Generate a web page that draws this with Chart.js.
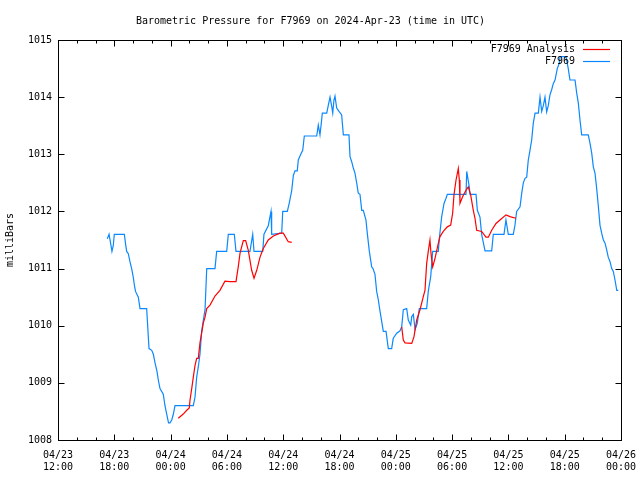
<!DOCTYPE html>
<html>
<head>
<meta charset="utf-8">
<script src="https://cdn.jsdelivr.net/npm/chart.js@4/dist/chart.umd.min.js"></script>
<style>
  html, body { margin: 0; padding: 0; background: #fff; }
  #wrap { width: 640px; height: 480px; }
</style>
</head>
<body>
<div id="wrap"><canvas id="baro"></canvas></div>
<script>
// saat cinsinden zaman: 04/23 12:00 UTC'den itibaren
const tickLabels = [
  ['04/23', '12:00'], ['04/23', '18:00'], ['04/24', '00:00'], ['04/24', '06:00'],
  ['04/24', '12:00'], ['04/24', '18:00'], ['04/25', '00:00'], ['04/25', '06:00'],
  ['04/25', '12:00'], ['04/25', '18:00'], ['04/26', '00:00']
];

// F7969 istasyon ölçümleri
const stationHours = [
  5.25, 5.44, 5.60, 5.75, 5.89, 6.00, 7.07, 7.21, 7.32, 7.49, 7.67, 7.85, 8.02, 8.15, 8.26, 8.56,
  8.74, 9.45, 9.52, 9.70, 9.99, 10.16, 10.34, 10.55, 10.69, 10.87, 11.22, 11.40, 11.65, 11.78, 11.94,
  12.12, 12.29, 12.47, 14.42, 14.60, 14.78, 14.97, 15.13, 15.31, 15.49, 15.67, 15.85, 16.73, 16.91,
  17.98, 18.15, 18.79, 18.97, 20.46, 20.75, 20.89, 21.82, 21.95, 22.41, 22.70, 22.77, 23.84, 23.95,
  24.44, 24.65, 24.91, 25.08, 25.26, 25.50, 25.61, 25.87, 26.08, 26.25, 27.57, 27.74, 27.92, 28.03,
  28.17, 28.64, 28.81, 28.99, 29.17, 29.28, 29.41, 29.52, 29.70, 29.95, 30.23, 30.41, 31.01, 31.12,
  31.30, 31.47, 31.65, 31.83, 32.00, 32.18, 32.37, 32.54, 32.82, 32.96, 33.18, 33.43, 33.57, 33.78,
  33.96, 34.14, 34.32, 34.50, 34.67, 34.96, 35.20, 35.56, 35.73, 36.10, 36.45, 36.63, 36.80, 37.16,
  37.33, 37.59, 37.70, 37.87, 38.05, 38.29, 38.50, 39.29, 39.46, 39.72, 39.93, 40.53, 40.64, 40.89,
  41.14, 41.35, 41.49, 43.48, 43.56, 43.83, 43.91, 44.55, 44.69, 44.97, 45.15, 45.51, 46.22, 46.39,
  47.53, 47.74, 47.99, 48.52, 48.70, 48.88, 49.24, 49.42, 49.59, 49.77, 49.95, 50.12, 50.30, 50.48,
  50.65, 50.84, 51.19, 51.37, 51.55, 51.72, 51.90, 52.08, 52.25, 52.43, 52.61, 52.79, 52.97, 53.21,
  53.43, 53.50, 54.14, 54.38, 54.56, 55.10, 55.28, 55.45, 55.63, 55.81, 56.51, 56.70, 56.88, 57.05,
  57.23, 57.41, 57.58, 57.76, 57.94, 58.12, 58.29, 58.47, 58.64, 58.83, 59.01, 59.18, 59.36, 59.55,
  59.71
];
const stationPressure = [
  1011.52, 1011.60, 1011.45, 1011.30, 1011.40, 1011.60, 1011.60, 1011.42, 1011.30, 1011.26, 1011.12,
  1011.00, 1010.85, 1010.70, 1010.60, 1010.50, 1010.30, 1010.30, 1010.10, 1009.60, 1009.57, 1009.50,
  1009.35, 1009.20, 1009.05, 1008.90, 1008.80, 1008.60, 1008.40, 1008.30, 1008.30, 1008.35, 1008.45,
  1008.60, 1008.60, 1008.75, 1009.10, 1009.30, 1009.50, 1009.90, 1010.10, 1010.28, 1011.00, 1011.00,
  1011.30, 1011.30, 1011.60, 1011.60, 1011.30, 1011.30, 1011.60, 1011.30, 1011.30, 1011.60, 1011.75,
  1012.00, 1011.60, 1011.62, 1012.00, 1012.00, 1012.15, 1012.37, 1012.63, 1012.71, 1012.71, 1012.90,
  1013.00, 1013.07, 1013.32, 1013.32, 1013.51, 1013.34, 1013.50, 1013.72, 1013.72, 1013.86, 1014.00,
  1013.84, 1013.72, 1013.95, 1014.02, 1013.81, 1013.75, 1013.69, 1013.34, 1013.34, 1012.96, 1012.87,
  1012.76, 1012.67, 1012.50, 1012.32, 1012.30, 1012.02, 1012.02, 1011.85, 1011.62, 1011.30, 1011.03,
  1011.00, 1010.90, 1010.60, 1010.45, 1010.25, 1010.07, 1009.90, 1009.90, 1009.60, 1009.60, 1009.78,
  1009.87, 1009.91, 1009.98, 1010.28, 1010.30, 1010.10, 1010.01, 1010.16, 1010.20, 1009.93, 1010.04,
  1010.30, 1010.30, 1010.60, 1010.86, 1011.30, 1011.30, 1011.53, 1011.91, 1012.14, 1012.23, 1012.30,
  1012.30, 1012.70, 1012.43, 1012.30, 1012.30, 1012.02, 1011.90, 1011.60, 1011.31, 1011.31, 1011.60,
  1011.60, 1011.85, 1011.60, 1011.60, 1011.76, 1012.00, 1012.08, 1012.32, 1012.50, 1012.58, 1012.60,
  1012.90, 1013.07, 1013.25, 1013.54, 1013.72, 1013.72, 1014.00, 1013.75, 1013.85, 1014.00, 1013.74,
  1013.85, 1014.04, 1014.13, 1014.24, 1014.30, 1014.50, 1014.60, 1014.71, 1014.71, 1014.50, 1014.30,
  1014.30, 1014.07, 1013.90, 1013.60, 1013.34, 1013.34, 1013.19, 1013.02, 1012.78, 1012.67, 1012.40,
  1012.10, 1011.76, 1011.62, 1011.50, 1011.45, 1011.33, 1011.20, 1011.12, 1011.00, 1010.95, 1010.80,
  1010.62, 1010.62
];

// F7969 Analysis (null = çizgi boşluğu)
const analysisHours = [
  12.82, 13.32, 13.72, 13.99, 14.07, 14.25, 14.42, 14.60, 14.78, 14.95, 15.13, 15.49, 15.67, 15.85,
  16.20, 16.73, 17.26, 17.79, 18.33, 18.97, 19.21, 19.40, 19.75, 20.00, 20.28, 20.64, 20.89, 21.18,
  21.53, 21.88, 22.41, 22.95, 23.66, 24.01, 24.54, 24.91,
  30.00,
  36.63, 36.80, 36.98, 37.70, 37.94, 38.23, 38.58, 38.93, 39.11, 39.29, 39.46, 39.64, 39.75, 39.93,
  40.18, 40.53, 40.71, 41.06, 41.49, 41.85, 42.06, 42.20, 42.42, 42.66, 42.77, 42.84, 43.13, 43.48,
  43.72, 43.98, 44.26, 44.44, 44.62, 45.15, 45.61, 45.86, 46.22, 46.68, 47.10, 47.74, 48.17, 48.81
];
const analysisPressure = [
  1008.38, 1008.45, 1008.52, 1008.56, 1008.70, 1008.90, 1009.10, 1009.30, 1009.43, 1009.43, 1009.70,
  1010.05, 1010.15, 1010.30, 1010.36, 1010.52, 1010.62, 1010.78, 1010.77, 1010.77, 1011.03, 1011.27,
  1011.49, 1011.49, 1011.32, 1010.97, 1010.83, 1010.97, 1011.20, 1011.35, 1011.50, 1011.57, 1011.62,
  1011.62, 1011.47, 1011.46,
  null,
  1009.98, 1009.75, 1009.70, 1009.69, 1009.81, 1010.10, 1010.28, 1010.51, 1010.62, 1011.09, 1011.30,
  1011.50, 1011.27, 1011.03, 1011.18, 1011.44, 1011.56, 1011.65, 1011.73, 1011.76, 1011.97, 1012.29,
  1012.55, 1012.75, 1012.55, 1012.14, 1012.26, 1012.37, 1012.43, 1012.29, 1012.02, 1011.88, 1011.67,
  1011.65, 1011.55, 1011.55, 1011.67, 1011.79, 1011.85, 1011.94, 1011.91, 1011.88
];

const RED  = '#ff0000';
const BLUE = '#0a88ff';
const FONT = { family: "'DejaVu Sans Mono', 'Liberation Mono', monospace", size: 10, weight: 'normal' };

function toPoints(xs, ys) {
  return xs.map((x, i) => ({ x: x, y: ys[i] }));
}

// gnuplot tarzı çerçeve, içe doğru tikler ve sağ üst lejant
const gnuFrame = {
  id: 'gnuFrame',
  afterDraw(chart) {
    const ctx = chart.ctx;
    const a = chart.chartArea;
    const xs = chart.scales.x, ys = chart.scales.y;
    const L = Math.round(a.left) + 0.5, R = Math.round(a.right) + 0.5;
    const T = Math.round(a.top) + 0.5, B = Math.round(a.bottom) + 0.5;
    ctx.save();
    ctx.strokeStyle = '#000';
    ctx.lineWidth = 1;
    ctx.strokeRect(L, T, R - L, B - T);
    ctx.beginPath();
    for (let h = 0; h <= 60; h += 2) {
      const px = Math.round(xs.getPixelForValue(h)) + 0.5;
      const len = (h % 6 === 0) ? 6 : 3;
      ctx.moveTo(px, B); ctx.lineTo(px, B - len);
      ctx.moveTo(px, T); ctx.lineTo(px, T + len);
    }
    for (let v = 1008; v <= 1015; v++) {
      const py = Math.round(ys.getPixelForValue(v)) + 0.5;
      ctx.moveTo(L, py); ctx.lineTo(L + 6, py);
      ctx.moveTo(R, py); ctx.lineTo(R - 6, py);
    }
    ctx.stroke();

    // lejant
    ctx.font = FONT.size + 'px ' + FONT.family;
    ctx.fillStyle = '#000';
    ctx.textAlign = 'right';
    ctx.textBaseline = 'middle';
    const rows = [[chart.data.datasets[0].label, RED, 49], [chart.data.datasets[1].label, BLUE, 61]];
    rows.forEach(([txt, col, y]) => {
      ctx.fillText(txt, 575, y);
      ctx.strokeStyle = col;
      ctx.lineWidth = 1.2;
      ctx.beginPath();
      ctx.moveTo(583, y + 0.5); ctx.lineTo(610, y + 0.5);
      ctx.stroke();
    });
    ctx.restore();
  }
};

new Chart(document.getElementById('baro'), {
  type: 'scatter',
  data: {
    datasets: [
      {
        label: 'F7969 Analysis',
        data: toPoints(analysisHours, analysisPressure),
        showLine: true, borderColor: RED, borderWidth: 1.2, pointRadius: 0,
        tension: 0, spanGaps: false
      },
      {
        label: 'F7969',
        data: toPoints(stationHours, stationPressure),
        showLine: true, borderColor: BLUE, borderWidth: 1.2, pointRadius: 0,
        tension: 0
      }
    ]
  },
  options: {
    responsive: true,
    maintainAspectRatio: false,
    animation: false,
    events: [],
    layout: { padding: { top: 0, right: 19, left: 0, bottom: 0 } },
    plugins: {
      legend: { display: false },
      tooltip: { enabled: false },
      title: {
        display: true,
        text: 'Barometric Pressure for F7969 on 2024-Apr-23 (time in UTC)',
        color: '#000',
        font: FONT,
        padding: { top: 15, bottom: 13 }
      }
    },
    scales: {
      x: {
        type: 'linear', min: 0, max: 60,
        grid: { display: false, drawTicks: false },
        border: { display: false },
        ticks: {
          stepSize: 6, color: '#000', font: FONT, padding: 9, maxRotation: 0,
          autoSkip: false,
          callback: (v) => tickLabels[Math.round(v / 6)]
        },
        afterFit: (s) => { s.height = 40; s.paddingLeft = 0; s.paddingRight = 0; }
      },
      y: {
        min: 1008, max: 1015,
        grid: { display: false, drawTicks: false },
        border: { display: false },
        ticks: { stepSize: 1, color: '#000', font: FONT, padding: 6, callback: (v) => String(v) },
        title: { display: true, text: 'milliBars', color: '#000', font: FONT, padding: { top: 4, bottom: 0 } },
        afterFit: (s) => { s.width = 58; s.paddingTop = 0; s.paddingBottom = 0; }
      }
    }
  },
  plugins: [gnuFrame]
});
</script>
</body>
</html>
